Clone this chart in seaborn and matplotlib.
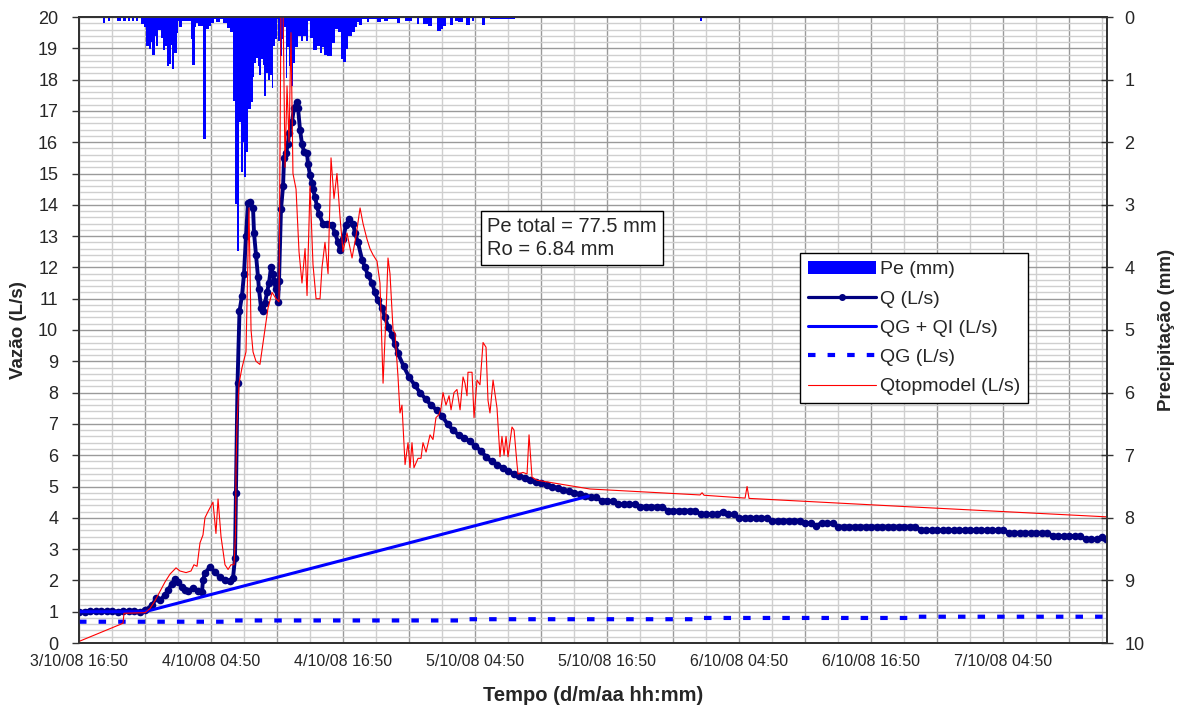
import pandas as pd
import matplotlib
matplotlib.use("Agg")
import matplotlib.pyplot as plt
from matplotlib.ticker import MultipleLocator, FuncFormatter
from matplotlib.patches import Patch
from matplotlib.lines import Line2D
import seaborn as sns

sns.set_style("white")
plt.rcParams['font.family'] = ['Liberation Sans', 'DejaVu Sans']

# inicio da serie (horas contadas a partir daqui)
inicio = pd.Timestamp("2008-10-03 16:50")
fim_h = 93.45

# Q observado (L/s)
q_h = [0.0, 0.5, 1.0, 1.5, 2.0, 2.5, 3.0, 3.5, 4.0, 4.5, 5.0, 5.5, 6.0,
       6.64, 7.0, 7.36, 7.82, 8.09, 8.45, 8.73, 9.0, 9.36, 9.64, 9.91, 10.36, 10.82, 11.18,
       11.27, 11.45, 11.91, 12.36, 12.82, 13.27, 13.73, 14.0, 14.18, 14.27, 14.41, 14.59,
       14.82, 15.0, 15.18, 15.36, 15.55, 15.82, 15.91, 16.09, 16.27, 16.36, 16.55, 16.73,
       16.91, 17.09, 17.27, 17.45, 17.64, 17.73, 17.91, 18.09, 18.18, 18.36, 18.55, 18.64,
       18.82, 19.0, 19.09, 19.36, 19.55, 19.82, 19.91, 20.09, 20.27, 20.45, 20.73, 20.82,
       21.0, 21.18, 21.27, 21.45, 21.64, 21.82, 22.18, 22.55, 23.0, 23.27, 23.55, 23.73,
       24.0, 24.27, 24.55, 24.91, 25.09, 25.36, 25.73, 26.0, 26.27, 26.64, 26.91, 27.18,
       27.55, 27.82, 28.09, 28.45, 28.73, 29.0,
       29.5, 30.0, 30.5, 31.0, 31.5, 32.0, 32.5, 33.0, 33.5, 34.0, 34.5, 35.0, 35.5, 36.0,
       36.5, 37.0, 37.5, 38.0, 38.5, 39.0, 39.5, 40.0, 40.5, 41.0, 41.5, 42.0, 42.5, 43.0,
       43.5, 44.0, 44.5, 45.0, 45.5, 46.0, 46.5, 47.0, 47.5, 48.0, 48.5, 49.0, 49.5, 50.0,
       50.5, 51.0, 51.5, 52.0, 52.5, 53.0, 53.5, 54.0, 54.5, 55.0, 55.5, 56.0, 56.5, 57.0,
       57.5, 58.0, 58.5, 59.0, 59.5, 60.0, 60.5, 61.0, 61.5, 62.0, 62.5, 63.0, 63.5, 64.0,
       64.5, 65.0, 65.5, 66.0, 66.5, 67.0, 67.5, 68.0, 68.5, 69.0, 69.5, 70.0, 70.5, 71.0,
       71.5, 72.0, 72.5, 73.0, 73.5, 74.0, 74.5, 75.0, 75.5, 76.0, 76.5, 77.0, 77.5, 78.0,
       78.5, 79.0, 79.5, 80.0, 80.5, 81.0, 81.5, 82.0, 82.5, 83.0, 83.5, 84.0, 84.5, 85.0,
       85.5, 86.0, 86.5, 87.0, 87.5, 88.0, 88.5, 89.0, 89.5, 90.0, 90.5, 91.0, 91.5, 92.0,
       92.5, 93.0, 93.4]
q_val = [1.0, 1.0, 1.02, 1.02, 1.03, 1.02, 1.01, 1.0, 1.02, 1.02, 1.03, 1.0, 1.05,
         1.2, 1.43, 1.37, 1.53, 1.7, 1.9, 2.04, 1.95, 1.8, 1.7, 1.65, 1.75, 1.66, 1.63,
         2.0, 2.23, 2.43, 2.27, 2.1, 2.0, 1.98, 2.08, 2.7, 4.8, 8.3, 10.6,
         11.1, 11.8, 13.0, 14.05, 14.1, 13.9, 13.1, 12.4, 11.7, 11.3, 10.7, 10.6,
         10.85, 11.2, 11.5, 12.0, 11.8, 11.55, 11.3, 10.9, 11.55, 13.85, 14.6, 15.5,
         15.65, 15.95, 16.3, 16.65, 17.1, 17.3, 17.1, 16.4, 15.95, 15.7, 15.65, 15.3,
         14.95, 14.7, 14.5, 14.25, 13.95, 13.7, 13.4, 13.4, 13.35, 13.1, 12.8, 12.55,
         12.9, 13.35, 13.55, 13.4, 13.1, 12.8, 12.25, 12.0, 11.75, 11.5, 11.2, 10.95,
         10.7, 10.4, 10.1, 9.85, 9.55, 9.25,
         8.85, 8.5, 8.25, 8.0, 7.8, 7.6, 7.45, 7.25, 7.0, 6.8, 6.65, 6.55, 6.45, 6.3,
         6.15, 5.95, 5.8, 5.7, 5.6, 5.5, 5.4, 5.35, 5.28, 5.2, 5.13, 5.1, 5.05, 5.0,
         4.95, 4.9, 4.85, 4.8, 4.75, 4.7, 4.67, 4.65, 4.55, 4.55, 4.53, 4.44, 4.44, 4.44,
         4.44, 4.36, 4.36, 4.36, 4.36, 4.36, 4.23, 4.23, 4.23, 4.23, 4.23, 4.23, 4.11, 4.11,
         4.11, 4.11, 4.2, 4.11, 4.11, 4.0, 4.0, 4.0, 4.0, 4.0, 4.0, 3.91, 3.91, 3.91,
         3.91, 3.91, 3.91, 3.83, 3.83, 3.75, 3.83, 3.83, 3.83, 3.72, 3.72, 3.72, 3.72, 3.72,
         3.72, 3.72, 3.72, 3.72, 3.72, 3.72, 3.72, 3.72, 3.72, 3.72, 3.61, 3.61, 3.61, 3.61,
         3.61, 3.61, 3.61, 3.61, 3.61, 3.61, 3.61, 3.61, 3.61, 3.61, 3.61, 3.61, 3.52, 3.52,
         3.52, 3.52, 3.52, 3.52, 3.52, 3.52, 3.42, 3.42, 3.42, 3.42, 3.42, 3.42, 3.31, 3.31,
         3.31, 3.4, 3.31]

# escoamento de base + intermediario (L/s)
qgqi_h = [0.0, 6.0, 46.3]
qgqi_val = [1.0, 1.0, 4.69]

# escoamento de base (L/s)
qg_h = [0.0, 13.7, 13.8, 35.0, 35.1, 56.0, 56.1, 76.0, 76.1, 93.45]
qg_val = [0.68, 0.68, 0.72, 0.72, 0.76, 0.76, 0.80, 0.80, 0.84, 0.84]

# Qtopmodel (L/s)
qtop_h = [0.0, 4.0, 4.09, 6.0, 6.45, 6.91, 7.36, 7.82, 8.27, 8.82, 9.18, 9.73, 10.18,
          10.45, 10.73, 11.0, 11.27, 11.45, 11.73, 12.18, 12.45, 12.64, 12.91, 13.27, 13.55,
          13.82, 14.09, 14.23, 14.27, 14.36, 14.55, 14.82, 15.18, 15.45, 15.64, 15.82, 16.09,
          16.45, 16.73, 17.18, 17.55, 17.91, 18.18, 18.36, 18.55, 18.73, 18.91, 19.09, 19.27,
          19.45, 19.73, 20.0, 20.27, 20.55, 20.73, 21.0, 21.27, 21.55, 21.91, 22.09, 22.36,
          22.64, 22.91, 23.18, 23.45, 23.73, 24.0, 24.36, 24.82, 25.18, 25.55, 25.82, 26.18,
          26.45, 26.73, 27.09, 27.36, 27.64, 27.91, 28.09, 28.27, 28.55, 28.73, 29.0, 29.18,
          29.36, 29.64, 29.91, 30.09, 30.27, 30.45, 30.82, 31.09, 31.27, 31.55, 31.91, 32.18,
          32.45, 32.73, 32.91, 33.09, 33.36, 33.64, 33.82, 34.09, 34.36, 34.64, 34.91, 35.09,
          35.27, 35.36, 35.73, 35.91, 36.18, 36.45, 36.73, 37.0, 37.18, 37.36, 37.64, 38.0,
          38.27, 38.45, 38.64, 38.82, 39.0, 39.36, 39.55, 39.82, 39.91, 40.36, 40.73, 40.91,
          41.18, 41.64, 46.45, 56.45, 56.64, 56.82, 60.55, 60.73, 60.91, 75.55, 93.45]
qtop_val = [0.05, 0.63, 0.95, 0.97, 1.1, 1.35, 1.65, 1.95, 2.2, 2.4, 2.3, 2.25, 2.3,
            2.5, 2.45, 3.2, 3.45, 4.0, 4.2, 4.5, 3.5, 4.6, 3.4, 2.5, 2.35,
            2.5, 2.5, 3.5, 5.5, 7.0, 8.3, 8.8, 9.3, 13.9, 10.0, 9.3, 9.0,
            8.9, 9.6, 10.7, 11.2, 11.0, 10.9, 20.3, 20.3, 15.2, 17.8, 16.0, 19.5,
            15.0, 14.5, 12.5, 11.5, 12.6, 11.1, 14.6, 12.1, 11.0, 11.0, 12.0, 12.8,
            11.8, 15.5, 14.2, 15.0, 13.6, 12.5, 13.1, 12.3, 13.0, 13.9, 13.4, 12.9,
            12.6, 12.4, 12.2, 11.5, 8.3, 10.5, 12.3, 11.8, 10.0, 9.9, 8.5, 7.35,
            7.6, 5.7, 6.4, 5.6, 6.4, 5.6, 5.9, 5.9, 6.4, 6.1, 6.65, 6.5,
            7.2, 7.3, 7.5, 8.0, 7.6, 7.9, 7.45, 8.0, 8.1, 7.45, 8.5, 8.3,
            7.9, 8.65, 8.65, 7.2, 8.4, 8.25, 9.6, 9.45, 7.75, 7.35, 8.4, 7.5,
            5.95, 6.6, 6.0, 6.6, 5.95, 6.9, 6.8, 5.7, 5.4, 5.45, 5.4, 6.65,
            5.3, 5.2, 4.92, 4.73, 4.8, 4.72, 4.63, 5.0, 4.62, 4.35, 4.03]

# precipitacao efetiva (mm), cada valor vale ate o proximo instante
pe_h = [2.18, 2.36, 2.64, 2.82, 3.45, 3.82, 4.0, 4.27, 4.45, 4.64, 4.82, 5.0, 5.18, 5.36,
        5.64, 5.91, 6.09, 6.36, 6.55, 6.64, 6.91, 7.0, 7.18, 7.45, 7.64, 7.82, 8.0, 8.18,
        8.36, 8.45, 8.64, 8.91, 9.0, 9.09, 9.36, 10.18, 10.27, 10.55, 10.64, 10.82, 11.27,
        11.55, 11.82, 12.0, 12.27, 12.45, 12.82, 13.09, 13.45, 13.73, 14.0, 14.18, 14.36,
        14.55, 14.73, 14.91, 15.0, 15.18, 15.36, 15.64, 15.82, 15.91, 16.09, 16.27, 16.36,
        16.55, 16.73, 16.82, 17.0, 17.18, 17.36, 17.55, 17.64, 17.82, 18.0, 18.09, 18.27,
        18.45, 18.64, 18.82, 18.91, 19.09, 19.27, 19.45, 19.64, 19.91, 20.18, 20.36, 20.64,
        20.82, 21.0, 21.27, 21.64, 21.91, 22.09, 22.27, 22.55, 23.0, 23.27, 23.55, 23.82,
        24.0, 24.27, 24.45, 24.82, 25.09, 25.27, 25.45, 25.73, 26.18, 26.36, 27.09, 27.45,
        27.73, 28.09, 28.91, 29.18, 29.64, 30.27, 30.73, 30.91, 31.27, 31.73, 32.09, 32.55,
        32.91, 33.09, 33.36, 33.73, 34.0, 34.18, 34.45, 34.91, 35.18, 35.55, 35.73, 35.91,
        36.64, 36.91, 37.36, 39.64, 56.45, 56.64]
pe_mm = [0.1, 0.0, 0.06, 0.0, 0.06, 0.0, 0.06, 0.0, 0.06, 0.0, 0.06, 0.0, 0.06, 0.0,
         0.11, 0.16, 0.46, 0.51, 0.4, 0.6, 0.3, 0.46, 0.21, 0.33, 0.53, 0.46, 0.78, 0.75,
         0.45, 0.83, 0.57, 0.25, 0.06, 0.16, 0.06, 0.35, 0.76, 0.16, 0.1, 0.14, 1.95,
         0.19, 0.14, 0.1, 0.03, 0.08, 0.03, 0.1, 0.18, 0.24, 1.34, 2.99, 3.74,
         1.68, 2.48, 2.0, 2.56, 2.15, 1.47, 1.36, 0.96, 0.73, 0.65, 0.78, 0.93,
         0.67, 0.77, 1.26, 0.9, 1.0, 0.93, 1.13, 0.46, 0.35, 0.03, 0.38, 0.63,
         0.35, 0.16, 0.98, 0.48, 0.78, 1.1, 0.74, 0.48, 0.31, 0.38, 0.3, 0.38,
         0.06, 0.33, 0.53, 0.47, 0.57, 0.48, 0.6, 0.62, 0.42, 0.19, 0.24, 0.67,
         0.72, 0.51, 0.3, 0.24, 0.16, 0.08, 0.13, 0.03, 0.08, 0.03, 0.08, 0.03,
         0.06, 0.03, 0.1, 0.02, 0.06, 0.02, 0.11, 0.02, 0.11, 0.14, 0.02, 0.22,
         0.19, 0.14, 0.02, 0.13, 0.02, 0.06, 0.08, 0.02, 0.12, 0.02, 0.06, 0.02,
         0.12, 0.0, 0.03, 0.0, 0.06, 0.0]

texto = "Pe total = 77.5 mm\nRo = 6.84 mm"

fig = plt.figure(figsize=(11.87, 7.16), dpi=100)
ax = fig.add_axes([79/1187, 1 - 643/716, 1028/1187, 626/716])   # grade + eixo esquerdo
ax2 = ax.twinx()   # precipitacao
ax3 = ax.twinx()   # linhas de vazao por cima

# grade
ax.set_xlim(0, fim_h)
ax.set_ylim(0, 20)
ax.xaxis.set_major_locator(MultipleLocator(6))
ax.xaxis.set_minor_locator(MultipleLocator(3))
ax.yaxis.set_major_locator(MultipleLocator(1))
ax.yaxis.set_minor_locator(MultipleLocator(0.2))
ax.grid(which='minor', color='#cfcfcf', lw=1.0)
ax.grid(which='major', color='#9a9a9a', lw=1.0)
ax.set_axisbelow(True)


def rotulo(h, pos):
    if abs(h % 12) > 1e-6:
        return ''
    t = inicio + pd.Timedelta(hours=h)
    return f"{t.day}/{t.month}/{t:%y %H:%M}"


ax.xaxis.set_major_formatter(FuncFormatter(rotulo))
ax.tick_params(axis='x', which='major', direction='out', length=5, width=1,
               color='#333333', labelsize=11.5, pad=3)
ax.tick_params(axis='y', which='major', direction='out', length=5, width=1,
               color='#333333', labelsize=13, pad=10)
ax.tick_params(axis='both', which='minor', length=0)
ax.set_ylabel('Vazão (L/s)', fontsize=13.5, fontweight='bold', labelpad=8)
ax.set_xlabel('Tempo (d/m/aa hh:mm)', fontsize=14.5, fontweight='bold', labelpad=12)

# precipitacao (eixo invertido)
ax2.fill_between(pe_h, 0, pe_mm, step='post', color='#0000ff', lw=0)
ax2.set_ylim(10, 0)
ax2.yaxis.set_major_locator(MultipleLocator(1))
ax2.tick_params(axis='y', direction='inout', length=9, width=1, color='#333333',
                labelsize=13, pad=8)
ax2.set_ylabel('Precipitação (mm)', fontsize=13.5, fontweight='bold', labelpad=10)

# vazoes
ax3.set_ylim(0, 20)
ax3.set_xlim(0, fim_h)
ax3.set_yticks([])
sns.lineplot(x=q_h, y=q_val, ax=ax3, color='#000080', lw=2.8, marker='o',
             markersize=5.5, markeredgewidth=0, estimator=None, legend=False)
sns.lineplot(x=qgqi_h, y=qgqi_val, ax=ax3, color='#0000ff', lw=2.2,
             estimator=None, legend=False)
sns.lineplot(x=qg_h, y=qg_val, ax=ax3, color='#0000ff', lw=3.0,
             linestyle=(0, (1.8, 2.9)), dash_capstyle='butt', estimator=None, legend=False)
sns.lineplot(x=qtop_h, y=qtop_val, ax=ax3, color='#ff0000', lw=0.8,
             estimator=None, legend=False)
ax3.set_xlabel('')
ax3.set_ylabel('')

for a in (ax, ax2, ax3):
    for s in a.spines.values():
        s.set_color('#333333')
        s.set_linewidth(1.2)

handles = [Patch(facecolor='#0000ff', edgecolor='none'),
           Line2D([], [], color='#000080', lw=2.3, marker='o', markersize=4),
           Line2D([], [], color='#0000ff', lw=2.2),
           Line2D([], [], color='#0000ff', lw=3.0, linestyle=(0, (1.8, 2.9)),
                  dash_capstyle='butt'),
           Line2D([], [], color='#ff0000', lw=0.8)]
nomes = ['Pe (mm)', 'Q (L/s)', 'QG + QI (L/s)', 'QG (L/s)', 'Qtopmodel (L/s)']
leg = ax3.legend(handles, nomes, loc='upper left', bbox_to_anchor=(800/1187, 1 - 253/716),
                 bbox_transform=fig.transFigure, fontsize=14, frameon=True,
                 fancybox=False, framealpha=1, edgecolor='black', borderaxespad=0,
                 handlelength=3.5, handletextpad=0.2, labelspacing=0.6,
                 borderpad=0.4)
leg.get_frame().set_linewidth(1.0)

fig.text(487/1187, 1 - 238/716, texto, fontsize=14.5, va='center', ha='left',
         linespacing=1.3,
         bbox=dict(boxstyle='square,pad=0.3', facecolor='white', edgecolor='black', lw=1))

fig.savefig('out.png', dpi=100)
